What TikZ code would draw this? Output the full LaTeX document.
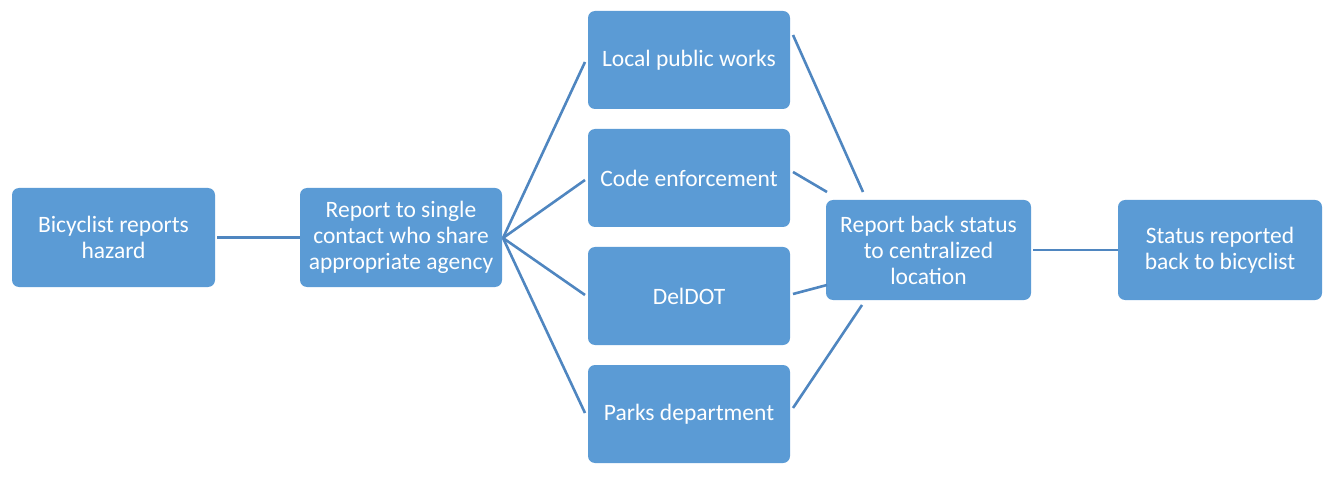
\documentclass[tikz,border=0pt]{standalone}
\usepackage{fontspec}
\setmainfont{Carlito}
\definecolor{boxfill}{HTML}{5B9BD5}
\definecolor{linec}{HTML}{4F86C0}
\begin{document}
\begin{tikzpicture}[x=1pt,y=1pt,
  box/.style={fill=boxfill,rounded corners=7pt,text=white,align=center,font=\fontsize{23.5}{26}\selectfont,inner sep=0pt},
  conn/.style={draw=linec,line width=2.6pt}]
\useasboundingbox (0,0) rectangle (1332,477);
\node[box,minimum width=203pt,minimum height=99pt] (bic) at (113.5,239.5) {Bicyclist reports\\hazard};
\node[box,minimum width=202pt,minimum height=99pt] (rep) at (401,239.5) {Report to single\\contact who share\\appropriate agency};
\node[box,minimum width=202pt,minimum height=98pt] (loc) at (689,417) {Local public works};
\node[box,minimum width=202pt,minimum height=98pt] (code) at (689,299) {Code enforcement};
\node[box,minimum width=202pt,minimum height=98pt] (del) at (689,181) {DelDOT};
\node[box,minimum width=202pt,minimum height=98pt] (park) at (689,63) {Parks department};
\node[box,minimum width=205pt,minimum height=100pt] (cen) at (928.5,227) {Report back status\\to centralized\\location};
\node[box,minimum width=204pt,minimum height=100pt] (stat) at (1220,227) {Status reported\\back to bicyclist};
\coordinate (r0) at (503,239);
\draw[conn] (bic.east) ++(2,0) coordinate (b0) -- (b0 -| rep.west);
\draw[conn] (r0) -- (585,415) coordinate (l1);
\draw[conn] (r0) -- (585,297) coordinate (c1);
\draw[conn] (r0) -- (585,182) coordinate (d1);
\draw[conn] (r0) -- (585,64) coordinate (p1);
\coordinate (l2) at (793,442);
\coordinate (c2) at (793,305);
\coordinate (d2) at (793,183);
\coordinate (p2) at (793,69);
\draw[conn] (l2) -- (863,285);
\draw[conn] (c2) -- (827,285);
\draw[conn] (d2) -- (827,192);
\draw[conn] (p2) -- (862,172);
\draw[conn] (cen.east) ++(2,0) coordinate (e0) -- (e0 -| stat.west);
\end{tikzpicture}
\end{document}
